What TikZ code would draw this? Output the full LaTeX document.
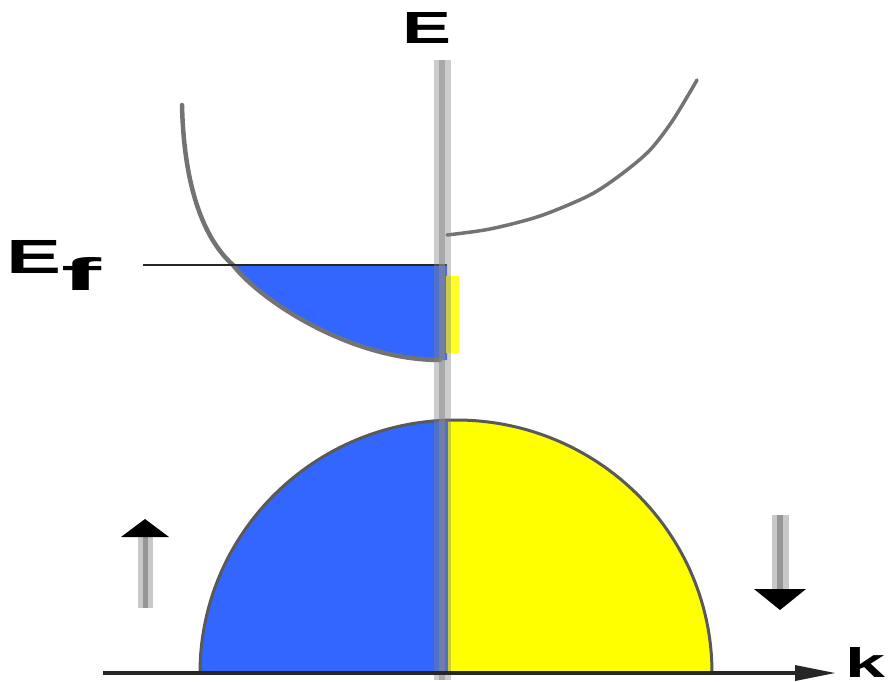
\documentclass[tikz,border=0pt]{standalone}
\usepackage{fontspec}
\setmainfont{Liberation Sans}
\usepackage{graphicx}
\definecolor{bandblue}{RGB}{51,102,255}
\definecolor{bandyellow}{RGB}{255,255,0}
\definecolor{axgray}{RGB}{200,200,200}
\definecolor{axdark}{RGB}{150,150,150}
\tikzset{
  lbl/.style={inner sep=0pt, outer sep=0pt, anchor=north west, font=\bfseries},
  shaftlight/.style={draw=axgray, line width=16pt},
  shaftdark/.style={draw=axdark, line width=6pt},
  headfill/.style={fill=black},
}
\begin{document}
\begin{tikzpicture}[x=1pt, y=-1pt]
\useasboundingbox (0,0) rectangle (891,682);
% lower band (dome)
\fill[bandblue] (448,673) -- (200,673) arc[start angle=180, end angle=268.2, x radius=256, y radius=253] -- cycle;
\fill[bandyellow] (448,673) -- (448,420) arc[start angle=268.2, end angle=360, x radius=256, y radius=253] -- cycle;
\draw[draw=black!65, line width=3pt] (200,673) arc[start angle=180, end angle=360, x radius=256, y radius=253];
% upper filled pocket (spin up, below E_f)
\begin{scope}
\clip (0,265) rectangle (447,400);
\fill[bandblue] (182,105) .. controls (184,190) and (205,240) .. (233,265) .. controls (260,300) and (350,360) .. (440,360) -- (447,360) -- (447,100) -- cycle;
\end{scope}
\fill[bandyellow!85!white] (446,276) rectangle (459,353);
% band curves
\draw[draw=black!55, line width=4.5pt, line cap=round] (182,105) .. controls (184,190) and (205,240) .. (233,265) .. controls (260,300) and (350,360) .. (440,360);
\draw[draw=black!55, line width=3.5pt, line cap=round] plot[smooth] coordinates {(447,235) (490,229) (540,216) (590,195) (623,173) (650,150) (673,120) (697,80)};
% Fermi level
\draw[draw=black!85, line width=1.8pt] (143,265) -- (447,265);
% E axis
\coordinate (Etop) at (442,60);
\coordinate (Ebot) at (442,680);
\draw[draw=gray, opacity=0.4, line width=17pt] (Etop) -- (Ebot);
\draw[draw=black!45, opacity=0.55, line width=6pt] (Etop) -- (Ebot);
% k axis
\coordinate (kstart) at (103,673);
\coordinate (kend) at (835,673);
\draw[draw=black!85, line width=3.5pt] (kstart) -- (800,673);
\fill[black!85] (kend) -- (795,665) -- (795,681) -- cycle;
% spin arrows
\coordinate (upA) at (145,608);
\coordinate (upB) at (145,537);
\draw[shaftlight, line width=15pt] (upA) -- (upB);
\draw[shaftdark, line width=5pt] (upA) -- (upB);
\fill[headfill] (145,519) -- (169,537) -- (121,537) -- cycle;
\coordinate (dnA) at (780,515);
\coordinate (dnB) at (780,589);
\draw[shaftlight, line width=17pt] (dnA) -- (dnB);
\draw[shaftdark, line width=6pt] (dnA) -- (dnB);
\fill[headfill] (780,610) -- (806,589) -- (754,589) -- cycle;
% labels
\node[lbl] (E) at (402,12) {\resizebox{49pt}{31pt}{E}};
\node[lbl] (Ef) at (7,240) {\resizebox{55pt}{33pt}{E}};
\node[lbl] (f) at (61,257) {\resizebox{40pt}{33pt}{f}};
\node[lbl] (k) at (845,647) {\resizebox{40pt}{30pt}{k}};
\end{tikzpicture}
\end{document}
